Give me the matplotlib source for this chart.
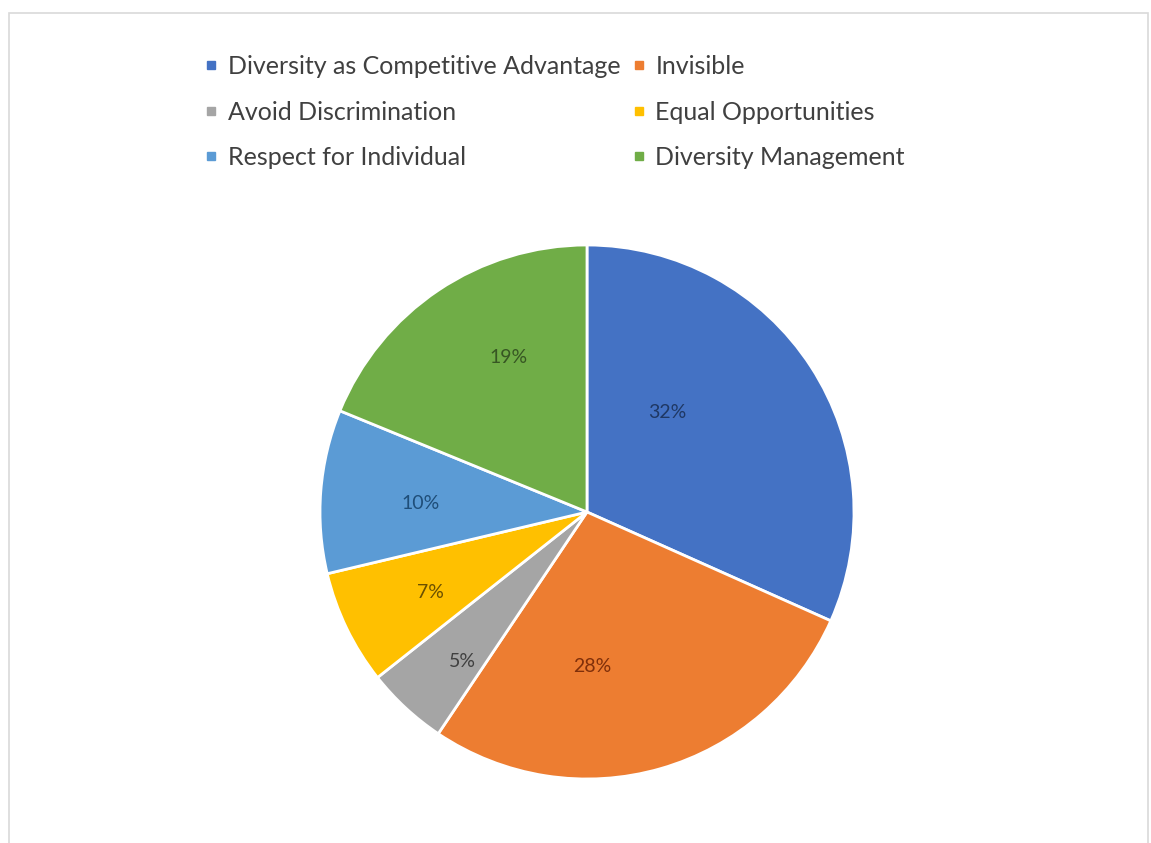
import numpy as np
import matplotlib.pyplot as plt
from matplotlib.patches import Rectangle
from matplotlib.lines import Line2D

# categories in legend order (Excel reads them clockwise from the top)
labels = ['Diversity as Competitive Advantage', 'Invisible', 'Avoid Discrimination',
          'Equal Opportunities', 'Respect for Individual', 'Diversity Management']
shares = [32, 28, 5, 7, 10, 19]
colors = ['#4472C4', '#ED7D31', '#A5A5A5', '#FFC000', '#5B9BD5', '#70AD47']
label_colors = ['#1F3864', '#7F2F0A', '#404040', '#6B5000', '#1F4E79', '#375623']

# where Excel put each percentage label: distance from centre and turn off the wedge middle
label_dist = [0.48, 0.58, 0.73, 0.66, 0.625, 0.65]
label_turn = [18, -14, 3, 1.5, 1.7, -7]

plt.rcParams['font.family'] = ['Lato', 'DejaVu Sans']

fig = plt.figure(figsize=(11.51, 8.43), dpi=100)
fig.patches.append(Rectangle((9 / 1151, -0.01), 1139 / 1151, 1 - 13 / 843 + 0.01,
                             transform=fig.transFigure, fill=False,
                             edgecolor='#d9d9d9', linewidth=1.2))

ax = fig.add_axes([320 / 1151, 64 / 843, 534 / 1151, 534 / 843])
wedges, texts = ax.pie(shares, colors=colors, startangle=90, counterclock=False,
                       wedgeprops=dict(edgecolor='white', linewidth=2))
for w, v, c, d, turn in zip(wedges, shares, label_colors, label_dist, label_turn):
    a = np.radians((w.theta1 + w.theta2) / 2 + turn)
    ax.text(d * np.cos(a), d * np.sin(a), f'{v}%', ha='center', va='center',
            color=c, fontsize=14)
ax.set_xlim(-1, 1)
ax.set_ylim(-1, 1)
ax.set_aspect('equal')

# Excel fills the legend row by row
handles = [Line2D([], [], marker='s', linestyle='', markersize=6, color=c) for c in colors]
order = [0, 2, 4, 1, 3, 5]
fig.legend([handles[i] for i in order], [labels[i] for i in order],
           loc='center', bbox_to_anchor=(555 / 1151, 1 - 112 / 843), ncol=2,
           frameon=False, fontsize=18, handlelength=0.5, handletextpad=0.4,
           columnspacing=0.5, labelspacing=0.9, labelcolor='#404040')

fig.savefig('out.png', dpi=100, facecolor='white')
